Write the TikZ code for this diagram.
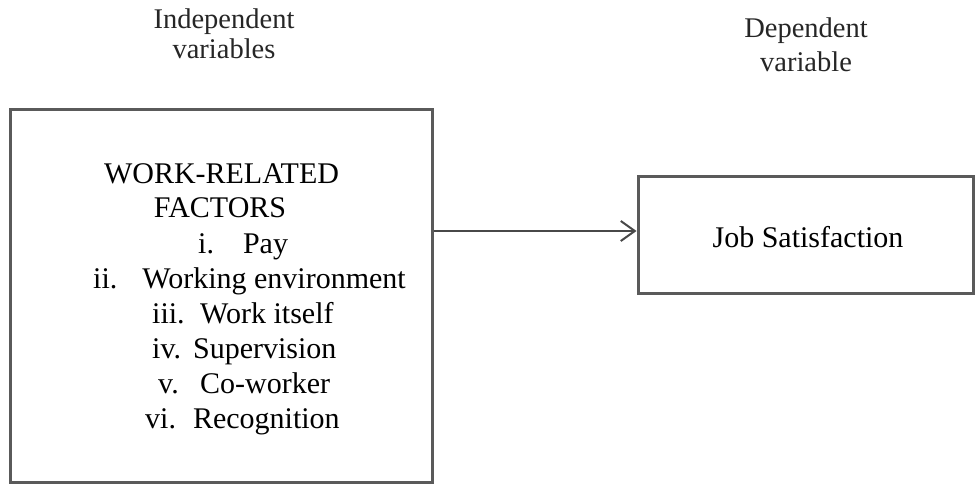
\documentclass[tikz,border=0pt]{standalone}
\usepackage{fontspec}
\setmainfont{Liberation Serif}
\usetikzlibrary{arrows.meta}
\definecolor{boxgray}{RGB}{90,90,90}
\tikzset{
  framebox/.style={draw=boxgray, line width=3pt, inner sep=0pt},
  bodytext/.style={font=\fontsize{30}{35}\selectfont, text=black, inner sep=0pt},
  headL/.style={font=\fontsize{28.5}{30}\selectfont, align=center, text=black!85, inner sep=0pt, anchor=base},
  headR/.style={font=\fontsize{28.5}{34}\selectfont, align=center, text=black!85, inner sep=0pt, anchor=base},
  item/.style={bodytext, anchor=base west},
  link/.style={draw=boxgray!80!black, line width=2pt, -{Straight Barb[length=14pt,width=20pt,line width=2pt]}}
}
\begin{document}
\begin{tikzpicture}[x=1pt,y=-1pt]
\useasboundingbox (0,0) rectangle (975,484);
\node[headL] (hind) at (224,59) {Independent\\variables};
\node[headR] (hdep) at (806,72) {Dependent\\variable};
\node[framebox, minimum width=422pt, minimum height=372pt] (L) at (221,296) {};
\node[bodytext, anchor=base] (t1) at (221.5,183) {WORK-RELATED};
\node[bodytext, anchor=base] (t2) at (220,218) {FACTORS};
\node[item] (i1) at (198,253) {i.\hspace{29pt}Pay};
\node[item] (i2) at (93,288) {ii.\hspace{25pt}Working environment};
\node[item] (i3) at (152,323) {iii.\hspace{15.5pt}Work itself};
\node[item] (i4) at (152,358) {iv.\hspace{12pt}Supervision};
\node[item] (i5) at (158,393) {v.\hspace{21.5pt}Co-worker};
\node[item] (i6) at (145,428) {vi.\hspace{17pt}Recognition};
\node[framebox, minimum width=335pt, minimum height=116pt] (R) at (805.5,235) {};
\node[bodytext] (Rtext) at (808,237) {Job Satisfaction};
\draw[link] (L.east |- 0,231) -- (R.west |- 0,231);
\end{tikzpicture}
\end{document}
